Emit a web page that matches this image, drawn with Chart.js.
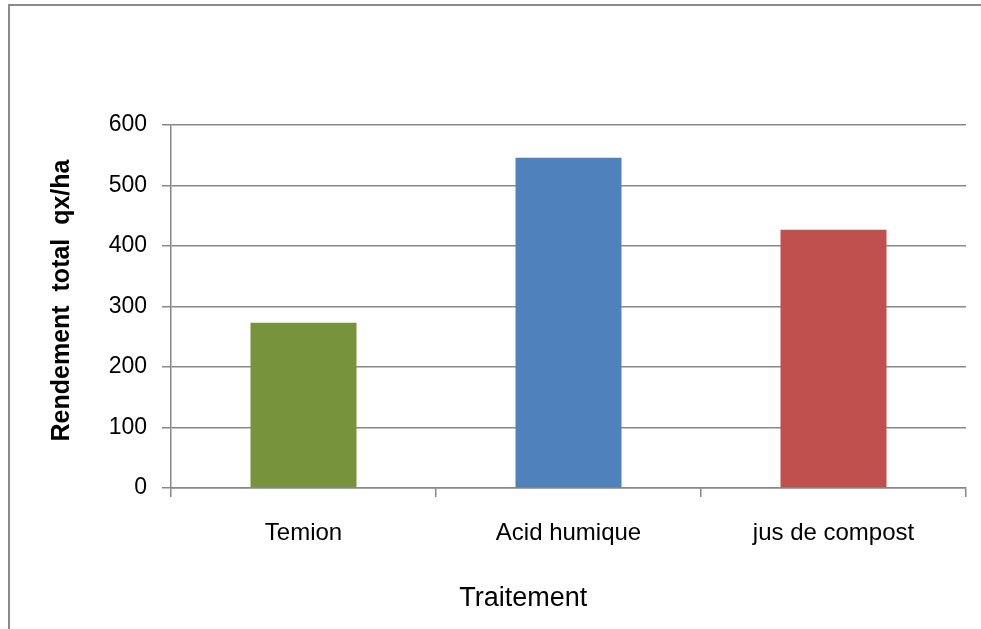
<!DOCTYPE html>
<html>
<head>
<meta charset="utf-8">
<script src="https://cdn.jsdelivr.net/npm/chart.js@4"></script>
<style>
  html, body { margin: 0; padding: 0; background: #fff; }
  #wrap { position: relative; width: 981px; height: 629px; }
</style>
</head>
<body>
<div id="wrap"><canvas id="c" width="981" height="629"></canvas></div>
<script>
// Yield per treatment (qx/ha)
const categories = ['Temion', 'Acid humique', 'jus de compost'];
const rendement = [273, 546, 427];
const barColors = ['#77933C', '#4F81BD', '#C0504D'];
const yTickValues = [0, 100, 200, 300, 400, 500, 600];
const xAxisTitle = 'Traitement';
const yAxisTitle = 'Rendement  total  qx/ha';

const FONT = '"Liberation Sans", Arial, sans-serif';
const GRID = '#888888';

// Outer frame and axis titles drawn on the canvas
const decor = {
  id: 'decor',
  beforeDraw(chart) {
    const ctx = chart.ctx;
    ctx.save();
    ctx.strokeStyle = '#8a8a8a';
    ctx.lineWidth = 2;
    ctx.beginPath();
    ctx.moveTo(9, 629);
    ctx.lineTo(9, 5);
    ctx.lineTo(981, 5);
    ctx.stroke();
    ctx.restore();
  },
  afterDraw(chart) {
    const ctx = chart.ctx;
    const a = chart.chartArea;
    ctx.save();
    ctx.fillStyle = '#000';
    ctx.textAlign = 'center';
    ctx.textBaseline = 'middle';
    // x-axis title
    ctx.font = '27px ' + FONT;
    ctx.fillText(xAxisTitle, a.left + (a.right - a.left) * 0.443, a.bottom + 111);
    // y-axis title
    ctx.font = 'bold 25px ' + FONT;
    ctx.translate(62, (a.top + a.bottom) / 2 - 6);
    ctx.rotate(-Math.PI / 2);
    ctx.fillText(yAxisTitle, 0, 0);
    ctx.restore();
  }
};

new Chart(document.getElementById('c'), {
  type: 'bar',
  data: {
    labels: categories,
    datasets: [{
      data: rendement,
      backgroundColor: barColors,
      borderWidth: 0,
      barPercentage: 0.4,
      categoryPercentage: 1.0
    }]
  },
  plugins: [decor],
  options: {
    responsive: false,
    animation: false,
    devicePixelRatio: 1,
    layout: { padding: { top: 125, right: 15, left: 0, bottom: 0 } },
    plugins: {
      legend: { display: false },
      tooltip: { enabled: false }
    },
    scales: {
      x: {
        afterFit(s) { s.height = 141; },
        grid: {
          offset: true,
          drawOnChartArea: false,
          drawTicks: true,
          tickLength: 9,
          color: GRID,
          lineWidth: 1.5
        },
        border: { display: true, color: GRID, width: 1.5 },
        ticks: {
          color: '#000',
          padding: 22,
          font: { family: FONT, size: 24 }
        }
      },
      y: {
        min: 0,
        max: 600,
        afterFit(s) { s.width = 171; },
        afterBuildTicks(s) { s.ticks = yTickValues.map(v => ({ value: v })); },
        grid: {
          color: GRID,
          lineWidth: 1.5,
          drawTicks: true,
          tickLength: 9
        },
        border: { display: true, color: GRID, width: 1.5 },
        ticks: {
          color: '#000',
          padding: 15,
          font: { family: FONT, size: 23 }
        }
      }
    }
  }
});
</script>
</body>
</html>
